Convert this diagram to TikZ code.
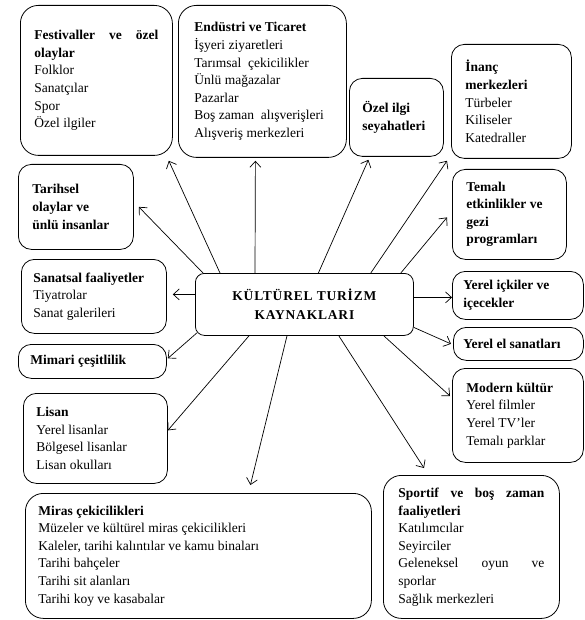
\documentclass[tikz,border=0pt]{standalone}
\usepackage{fontspec}
\setmainfont{Liberation Serif}
\newfontfamily\wideserif[LetterSpace=6]{Liberation Serif}
\usetikzlibrary{arrows.meta}
\tikzset{box/.style={draw, line width=0.8pt, rounded corners=13pt, anchor=north west,
    align=flush left, inner xsep=14pt, inner ysep=4pt,
    font=\fontsize{13.5}{17.6}\selectfont}}
\tikzset{hub/.style={draw, line width=0.8pt, rounded corners=9pt, anchor=north west,
    align=center, minimum width=218pt, minimum height=62pt,
    font=\fontsize{13.5}{19}\selectfont\wideserif\bfseries}}
\tikzset{arr/.style={-{Straight Barb[length=6pt,width=11pt]}, line width=0.7pt}}

\begin{document}
\begin{tikzpicture}[x=1pt,y=-1pt]
                \useasboundingbox (0,0) rectangle (585,620);

                % Centre
                \node[hub] (ctr) at (195,273) {KÜLTÜREL TURİZM\\KAYNAKLARI};

                % Left and top boxes
                \node[box, rounded corners=18pt, text width=124pt, minimum height=150pt] (fest) at (20,5)
                    {\textbf{Festivaller \hfill ve \hfill özel}\\\textbf{olaylar}\\Folklor\\Sanatçılar\\Spor\\Özel ilgiler};
                \node[box, rounded corners=18pt, inner xsep=16pt, text width=136pt, minimum height=152pt] (endu) at (178,5)
                    {\textbf{Endüstri ve Ticaret}\\İşyeri ziyaretleri\\Tarımsal \ çekicilikler\\Ünlü mağazalar\\Pazarlar\\Boş zaman \ alışverişleri\\Alışveriş merkezleri};
                \node[box, inner xsep=13pt, text width=68pt, minimum height=78pt] (ozel) at (349,78)
                    {\textbf{Özel ilgi}\\\textbf{seyahatleri}};
                \node[box, text width=92pt, minimum height=114pt] (inanc) at (451,44)
                    {\textbf{İnanç}\\\textbf{merkezleri}\\Türbeler\\Kiliseler\\Katedraller};
                \node[box, text width=87pt, minimum height=85pt] (tarih) at (18,164)
                    {\textbf{Tarihsel}\\\textbf{olaylar ve}\\\textbf{ünlü insanlar}};
                \node[box, text width=86pt, minimum height=90pt] (temali) at (452,169)
                    {\textbf{Temalı}\\\textbf{etkinlikler ve}\\\textbf{gezi}\\\textbf{programları}};
                \node[box, inner xsep=12pt, text width=121pt, minimum height=74pt] (sanat) at (21,259)
                    {\textbf{Sanatsal faaliyetler}\\Tiyatrolar\\Sanat galerileri};
                \node[box, inner xsep=12pt, text width=124pt, minimum height=34pt] (mimari) at (18,344)
                    {\textbf{Mimari çeşitlilik}};

                % Right boxes
                \node[box, inner xsep=11pt, text width=109pt, minimum height=48pt] (icki) at (452,271)
                    {\textbf{Yerel içkiler ve}\\\textbf{içecekler}};
                \node[box, inner xsep=10pt, text width=110pt, minimum height=33pt] (elsan) at (453,327)
                    {\textbf{Yerel el sanatları}};
                \node[box, text width=103pt, minimum height=94pt] (modern) at (452,368)
                    {\textbf{Modern kültür}\\Yerel filmler\\Yerel TV’ler\\Temalı parklar};

                % Bottom boxes
                \node[box, inner xsep=13pt, text width=118pt, minimum height=90pt] (lisan) at (23,393)
                    {\textbf{Lisan}\\Yerel lisanlar\\Bölgesel lisanlar\\Lisan okulları};
                \node[box, rounded corners=18pt, inner xsep=13pt, text width=320pt, minimum height=125pt] (miras) at (25,493)
                    {\textbf{Miras çekicilikleri}\\Müzeler ve kültürel miras çekicilikleri\\Kaleler, tarihi kalıntılar ve kamu binaları\\Tarihi bahçeler\\Tarihi sit alanları\\Tarihi koy ve kasabalar};
                \node[box, rounded corners=18pt, inner xsep=15pt, text width=146pt, minimum height=143pt] (spor) at (383,475)
                    {\textbf{Sportif \hfill ve \hfill boş \hfill zaman}\\\textbf{faaliyetleri}\\Katılımcılar\\Seyirciler\\Geleneksel \hfill oyun \hfill ve\\sporlar\\Sağlık merkezleri};

                % Arrows
                \draw[arr] ([xshift=25pt]ctr.north west) -- ([xshift=-4pt,yshift=-5pt]fest.south east);
                \draw[arr] ([xshift=60pt]ctr.north west) -- ([xshift=-7pt,yshift=-3pt]endu.south);
                \draw[arr] ([xshift=8pt]ctr.north west) -- ([xshift=5pt]tarih.east);
                \draw[arr] ([yshift=10pt]ctr.west) -- ([xshift=6pt,yshift=2pt]sanat.east);
                \draw[arr] ([xshift=2pt,yshift=3pt]ctr.south west) -- ([xshift=1pt,yshift=3pt]mimari.east);
                \draw[arr] ([xshift=54pt]ctr.south west) -- ([yshift=8pt]lisan.east);
                \draw[arr] ([xshift=92pt]ctr.south west) -- ([xshift=52pt,yshift=8pt]miras.north);
                \draw[arr] ([xshift=14pt]ctr.north) -- ([xshift=-28pt,yshift=-3pt]ozel.south);
                \draw[arr] ([xshift=-43pt]ctr.north east) -- ([xshift=-4pt,yshift=-2pt]inanc.south west);
                \draw[arr] ([xshift=-13pt]ctr.north east) -- ([xshift=-5pt,yshift=-3pt]temali.west);
                \draw[arr] ([yshift=7pt]ctr.east) -- ([yshift=-2pt]icki.west);
                \draw[arr] ([yshift=-23pt]ctr.east) -- ([xshift=-2pt]elsan.west);
                \draw[arr] ([xshift=-30pt]ctr.south east) -- ([xshift=-2pt,yshift=-28pt]modern.north west);
                \draw[arr] ([xshift=-75pt]ctr.south east) -- ([xshift=41pt,yshift=7pt]spor.north west);
            \end{tikzpicture}
\end{document}
